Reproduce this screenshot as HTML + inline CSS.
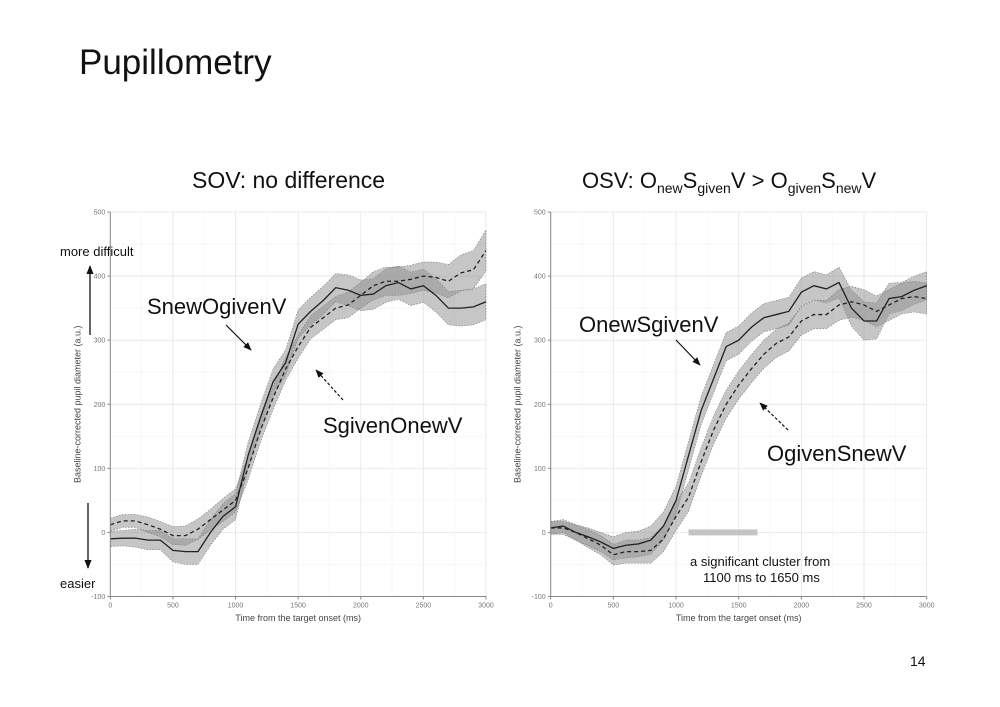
<!DOCTYPE html>
<html><head><meta charset="utf-8"><style>
html,body{margin:0;padding:0;background:#fff;}
svg{display:block;font-family:"Liberation Sans",sans-serif;}
</style></head><body>
<svg id="s" width="1000" height="707" viewBox="0 0 1000 707" xmlns="http://www.w3.org/2000/svg">
<defs>
<marker id="ah" viewBox="0 0 10 10" refX="9" refY="5" markerWidth="7" markerHeight="7" orient="auto"><path d="M0,1 L10,5 L0,9 z" fill="#111"/></marker>
</defs>
<text x="79" y="74" font-size="35" fill="#111">Pupillometry</text>
<text x="192" y="188" font-size="23" fill="#111">SOV: no difference</text>
<text x="582" y="188" font-size="22" fill="#111">OSV: O<tspan font-size="14" dy="5">new</tspan><tspan dy="-5">S</tspan><tspan font-size="14" dy="5">given</tspan><tspan dy="-5">V  &gt; O</tspan><tspan font-size="14" dy="5">given</tspan><tspan dy="-5">S</tspan><tspan font-size="14" dy="5">new</tspan><tspan dy="-5">V</tspan></text>
<g id="left"></g>
<g id="right"></g>
<text x="60" y="256" font-size="13" fill="#111">more difficult</text>
<line x1="90" y1="335" x2="90" y2="266" stroke="#111" stroke-width="1.3" marker-end="url(#ah)"/>
<line x1="88" y1="503" x2="88" y2="568" stroke="#111" stroke-width="1.3" marker-end="url(#ah)"/>
<text x="60" y="588" font-size="13" fill="#111">easier</text>
<text x="147" y="314" font-size="22" fill="#111">SnewOgivenV</text>
<line x1="226" y1="325" x2="251" y2="350" stroke="#111" stroke-width="1.2" marker-end="url(#ah)"/>
<text x="323" y="433" font-size="22" fill="#111">SgivenOnewV</text>
<line x1="343" y1="400" x2="316" y2="370" stroke="#111" stroke-width="1.2" stroke-dasharray="3,2" marker-end="url(#ah)"/>
<text x="579" y="332" font-size="22" fill="#111">OnewSgivenV</text>
<line x1="676" y1="340" x2="700" y2="365" stroke="#111" stroke-width="1.2" marker-end="url(#ah)"/>
<text x="767" y="461" font-size="22" fill="#111">OgivenSnewV</text>
<line x1="788" y1="430" x2="760" y2="403" stroke="#111" stroke-width="1.2" stroke-dasharray="3,2" marker-end="url(#ah)"/>
<text x="690" y="566" font-size="13" fill="#111">a significant cluster from</text>
<text x="703" y="582" font-size="13" fill="#111">1100 ms to 1650 ms</text>
<text x="910" y="666" font-size="14" fill="#111">14</text>
</svg>
<script>
const times=[0,100,200,300,400,500,600,700,800,900,1000,1100,1200,1300,1400,1500,1600,1700,1800,1900,2000,2100,2200,2300,2400,2500,2600,2700,2800,2900,3000];
const leftSolid=[-10,-9,-9,-12,-12,-28,-30,-30,0,25,40,120,180,235,265,325,345,362,382,378,370,372,385,390,380,385,370,350,350,352,360];
const leftSolidErr=[12,12,14,15,15,18,20,20,20,20,20,20,20,20,20,22,22,22,22,24,24,24,26,26,26,26,26,26,28,28,28];
const leftDashed=[12,18,18,12,5,-5,-5,5,20,35,50,100,160,210,255,290,320,335,350,355,370,385,392,392,395,400,398,392,405,410,440];
const leftDashedErr=[10,10,10,12,12,14,15,16,16,18,18,18,18,18,18,18,18,18,18,20,20,22,22,22,22,22,24,26,28,30,32];
const rightSolid=[7,10,0,-7,-15,-25,-20,-18,-12,10,50,120,190,240,290,300,320,335,340,345,375,385,380,390,350,330,330,365,368,378,385];
const rightSolidErr=[10,10,12,14,15,18,20,20,22,22,22,22,22,22,22,22,22,22,22,22,22,22,22,24,28,30,28,24,22,22,22];
const rightDashed=[7,7,0,-10,-20,-35,-30,-30,-28,-10,25,55,110,160,200,230,255,278,295,305,330,340,340,355,360,355,345,355,365,368,365];
const rightDashedErr=[10,10,12,14,15,16,18,18,20,20,22,22,22,22,22,22,22,22,22,22,22,22,22,24,24,24,24,24,24,24,24];
const yTicks=[-100,0,100,200,300,400,500];
const xTicks=[0,500,1000,1500,2000,2500,3000];
const cluster=[1100,1650];
const NS="http://www.w3.org/2000/svg";
function mk(p,tag,at){const e=document.createElementNS(NS,tag);for(const k in at)e.setAttribute(k,at[k]);p.appendChild(e);return e;}
function chart(g,x0,x1,name,solid,sErr,dashed,dErr,withCluster){
  const y0=532.4,k=0.6407;
  const X=t=>x0+(t/3000)*(x1-x0);
  const Y=v=>y0-v*k;
  for(let v=-100;v<=500;v+=50){const l=mk(g,'line',{x1:x0,x2:x1,y1:Y(v),y2:Y(v),stroke:v%100?'#f3f3f3':'#e8e8e8','stroke-width':v%100?0.6:0.9});
    
    }
  for(let t=0;t<=3000;t+=250){const l=mk(g,'line',{x1:X(t),x2:X(t),y1:Y(-100),y2:Y(500),stroke:t%500?'#f3f3f3':'#e8e8e8','stroke-width':t%500?0.6:0.9});
    
    }
  function band(vals,err,fill,nm){
    let d='M'+times.map((t,i)=>X(t)+','+Y(vals[i]+err[i])).join(' L');
    d+=' L'+times.slice().reverse().map((t,j)=>{const i=times.length-1-j;return X(t)+','+Y(vals[i]-err[i]);}).join(' L')+' Z';
    const p=mk(g,'path',{d:d,fill:fill,'fill-opacity':0.5,stroke:'#777','stroke-width':0.6,'stroke-dasharray':'1.5,1.5'});
    
    
  }
  band(solid,sErr,'#8e8e8e',name+'-solid-ci');
  band(dashed,dErr,'#8e8e8e',name+'-dashed-ci');
  const ls=mk(g,'path',{d:'M'+times.map((t,i)=>X(t)+','+Y(solid[i])).join(' L'),fill:'none',stroke:'#222','stroke-width':1.3});
  
  
  const ld=mk(g,'path',{d:'M'+times.map((t,i)=>X(t)+','+Y(dashed[i])).join(' L'),fill:'none',stroke:'#222','stroke-width':1.3,'stroke-dasharray':'4,3'});
  
  
  if(withCluster){const r=mk(g,'rect',{x:X(cluster[0]),y:Y(0)-3,width:X(cluster[1])-X(cluster[0]),height:6,fill:'#c4c4c4'});
    
    }
  const ax=mk(g,'path',{d:`M${x0},${Y(500)} L${x0},${Y(-100)} L${x1},${Y(-100)}`,fill:'none',stroke:'#888','stroke-width':1});
  
  
  yTicks.forEach(v=>{mk(g,'line',{x1:x0-3,x2:x0,y1:Y(v),y2:Y(v),stroke:'#888'});
    const t=mk(g,'text',{x:x0-5,y:Y(v)+2.5,'font-size':7,fill:'#777','text-anchor':'end'});t.textContent=v;
    
    });
  xTicks.forEach(v=>{mk(g,'line',{x1:X(v),x2:X(v),y1:Y(-100),y2:Y(-100)+3,stroke:'#888'});
    const t=mk(g,'text',{x:X(v),y:Y(-100)+11,'font-size':7,fill:'#777','text-anchor':'middle'});t.textContent=v;
    
    });
  const xt=mk(g,'text',{x:(x0+x1)/2,y:621,'font-size':9,fill:'#444','text-anchor':'middle'});xt.textContent='Time from the target onset (ms)';
  
  
  const yt=mk(g,'text',{x:0,y:0,'font-size':9,fill:'#444','text-anchor':'middle',transform:`translate(${x0-30},${Y(200)}) rotate(-90)`});yt.textContent='Baseline-corrected pupil diameter (a.u.)';
  
  
}
chart(document.getElementById('left'),110.3,486,'left',leftSolid,leftSolidErr,leftDashed,leftDashedErr,false);
chart(document.getElementById('right'),550.7,926.7,'right',rightSolid,rightSolidErr,rightDashed,rightDashedErr,true);
</script>
</body></html>
